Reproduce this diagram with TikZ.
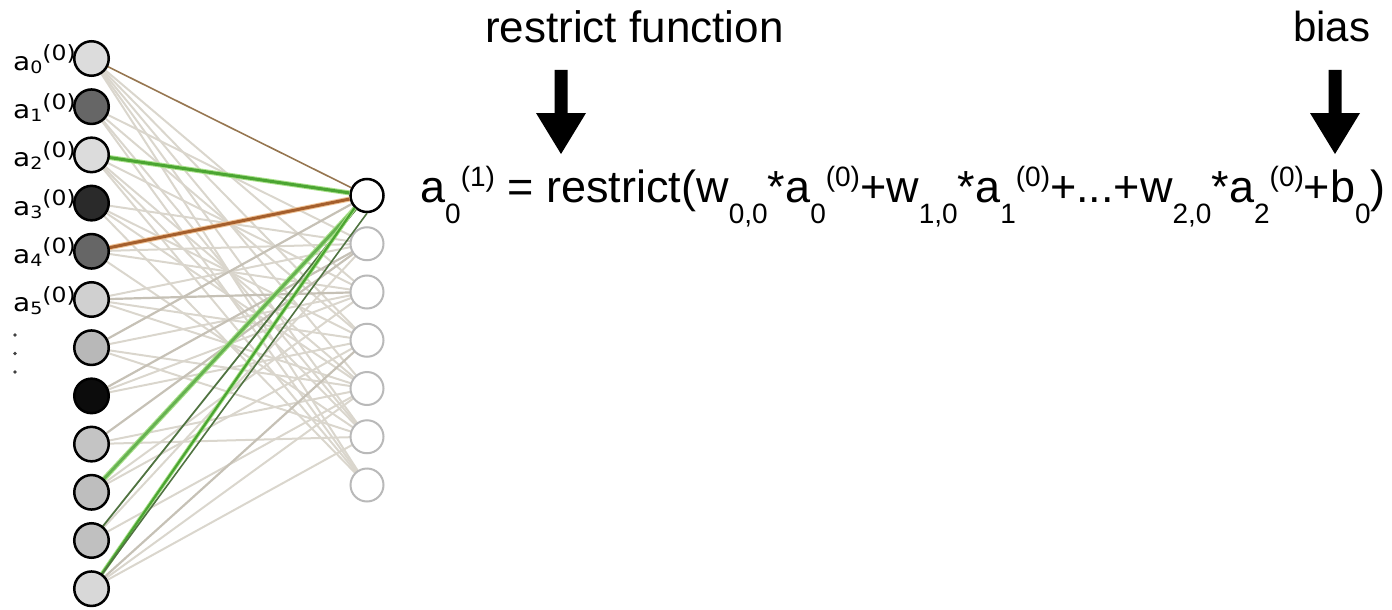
\documentclass[tikz,border=0pt]{standalone}
\usepackage{fontspec}
\usetikzlibrary{calc}
\setmainfont{Liberation Sans}
\newfontfamily\labelfont{DejaVu Sans}
\definecolor{faint}{RGB}{218,214,205}
\definecolor{faintdk}{RGB}{198,193,182}
\definecolor{outgray}{RGB}{185,185,185}
\definecolor{tan}{RGB}{150,118,80}
\definecolor{rust}{RGB}{165,95,45}
\definecolor{rusthalo}{RGB}{240,195,150}
\definecolor{leaf}{RGB}{75,165,50}
\definecolor{leafhalo}{RGB}{170,225,140}
\definecolor{moss}{RGB}{80,115,65}
% subscript / superscript pieces of the formula
\newcommand\eqsub[1]{\raisebox{-21pt}{\fontsize{28}{28}\selectfont #1}}
\newcommand\eqsup[1]{\raisebox{16pt}{\fontsize{28}{28}\selectfont #1}}
% labels of the input neurons
\newcommand\inlabel[1]{\scalebox{1.12}[1]{\labelfont\fontsize{25}{25}\selectfont a\raisebox{-3pt}{\fontsize{17}{17}\selectfont #1}\raisebox{9.5pt}{\fontsize{21}{21}\selectfont (0)}}}
\begin{document}
\begin{tikzpicture}[x=1pt,y=-1pt,
  inneuron/.style={circle, draw=black, line width=2.5pt, minimum size=34.5pt, inner sep=0pt},
  outneuron/.style={circle, draw=outgray, line width=2pt, minimum size=33pt, inner sep=0pt, fill=white},
  wire/.style={draw=faint, line width=2pt},
  wiredk/.style={draw=faintdk, line width=2.2pt},
  blockarrow/.style={fill=black}]
\useasboundingbox (0,0) rectangle (1392,610);

% input layer positions (neurons are drawn after the wires)
\foreach \i in {0,...,11}
  \coordinate (P\i) at (91.5,58.5+48.2*\i);
\foreach \j in {0,...,6}
  \coordinate (Q\j) at (367,195.5+48.25*\j);

% light weights
\foreach \i/\j in {0/2,0/3,0/4,0/5,0/6,1/1,1/3,1/5,1/6,2/2,2/4,2/5,2/6,3/1,3/3,3/4,3/6,
                   4/1,4/2,4/5,5/1,5/3,5/4,6/2,6/4,6/5,7/2,7/3,8/4,8/5,9/2,9/3,10/1,10/4,11/4,11/5}
  \draw[wire] (P\i) -- (Q\j);
\foreach \i/\j in {7/1,8/1,6/0,11/3,5/2}
  \draw[wiredk] (P\i) -- (Q\j);

% output layer
\foreach \j in {1,...,6}
  \node[outneuron] (R\j) at (Q\j) {};
\node[outneuron, draw=black, line width=2.5pt] (R0) at (Q0) {};

% highlighted weights into the first output neuron
\draw[tan, line width=1.6pt] (P0) -- (R0);
\draw[leafhalo, line width=5pt] (P2) -- (R0);
\draw[leaf, line width=3pt] (P2) -- (R0);
\draw[rusthalo, line width=5pt] (P4) -- (R0);
\draw[rust, line width=3pt] (P4) -- (R0);
\draw[leafhalo, line width=5pt] (P9) -- (R0);
\draw[leaf!85!white, line width=2.8pt] (P9) -- (R0);
\draw[moss, line width=1.8pt] (P10) -- (R0);
\draw[leafhalo, line width=4pt] (P11) -- (R0.south west);
\draw[leaf, line width=2.2pt] (P11) -- (R0.south west);
\draw[moss, line width=1.6pt] (P11) -- (R0.south);

% input neurons with their activations as grey levels
\foreach \i/\g in {0/220,1/102,2/220,3/42,4/102,5/208,6/184,7/12,8/196,9/190,10/192,11/216}{
  \definecolor{act}{RGB}{\g,\g,\g}
  \node[inneuron, fill=act] (L\i) at (P\i) {};
}

% labels
\foreach \i in {0,...,5}
  \node[anchor=base east, inner sep=0pt] (lab\i) at ($(L\i.west)+(3,12)$) {\inlabel{\i}};
\foreach \k in {0,1,2}
  \fill[black!75] (15,335+18.5*\k) circle (1.9pt);

% formula
\node[anchor=base west, inner sep=0pt, font=\fontsize{45}{50}\selectfont] (eq) at (420,202)
  {a\eqsub{0}\eqsup{(1)} = restrict(w\eqsub{0,0}*a\eqsub{0}\eqsup{(0)}+w\eqsub{1,0}*a\eqsub{1}\eqsup{(0)}+...+w\eqsub{2,0}*a\eqsub{2}\eqsup{(0)}+b\eqsub{0})};

% annotations
\node[anchor=base west, inner sep=0pt, font=\fontsize{44}{46}\selectfont] (fn) at (485,43) {restrict function};
\node[anchor=base west, inner sep=0pt, font=\fontsize{42}{46}\selectfont] (bias) at (1293,42) {bias};

\coordinate (fnarrow) at (561,70);
\coordinate (biasarrow) at (1335,70);
\foreach \c in {fnarrow,biasarrow}
  \fill[blockarrow] ($(\c)+(-6.5,0)$) -- ($(\c)+(6.5,0)$) -- ($(\c)+(6.5,43)$) -- ($(\c)+(25,43)$)
    -- ($(\c)+(0,84)$) -- ($(\c)+(-25,43)$) -- ($(\c)+(-6.5,43)$) -- cycle;
\end{tikzpicture}
\end{document}
